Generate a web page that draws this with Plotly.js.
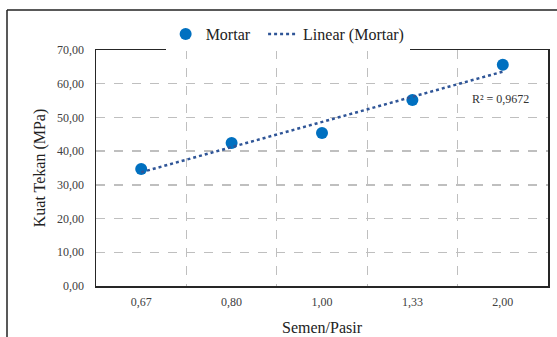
<!DOCTYPE html>
<html>
<head>
<meta charset="utf-8">
<script src="https://cdn.plot.ly/plotly-3.0.1.min.js"></script>
<style>
html,body{margin:0;padding:0;background:#fff;}
#chart{width:557px;height:337px;}
</style>
</head>
<body>
<div id="chart"></div>
<script>
// Data
const categories = ["0,67", "0,80", "1,00", "1,33", "2,00"];
const mortarValues = [34.7, 42.4, 45.4, 55.2, 65.6];
const yTickVals = [0, 10, 20, 30, 40, 50, 60, 70];
const r2Label = "R² = 0,9672";

// Linear trendline over category index (like a spreadsheet trendline)
const idx = categories.map((_, i) => i + 1);
const n = idx.length;
const mx = idx.reduce((a, b) => a + b, 0) / n;
const my = mortarValues.reduce((a, b) => a + b, 0) / n;
let sxy = 0, sxx = 0;
for (let i = 0; i < n; i++) { sxy += (idx[i] - mx) * (mortarValues[i] - my); sxx += (idx[i] - mx) ** 2; }
const slope = sxy / sxx;
const intercept = my - slope * mx;
const trendValues = idx.map(x => intercept + slope * x);

const serif = "Liberation Serif";

const traces = [
  {
    x: categories, y: mortarValues, type: "scatter", mode: "markers", name: "Mortar\u00a0\u00a0",
    marker: {color: "#0070C0", size: 12}
  },
  {
    x: categories, y: trendValues, type: "scatter", mode: "lines", name: "Linear (Mortar)",
    line: {color: "#2F5597", width: 2.5, dash: "dot"}
  }
];

const layout = {
  width: 557, height: 337,
  margin: {l: 96, r: 9, t: 50, b: 51},
  paper_bgcolor: "#fff", plot_bgcolor: "#fff",
  separators: ",.",
  font: {family: serif, color: "#404040", size: 12},
  showlegend: true,
  legend: {orientation: "h", x: 0.424, xanchor: "center", y: 0.995, yanchor: "bottom",
           font: {family: serif, size: 16, color: "#222"}, traceorder: "normal", itemwidth: 30},
  xaxis: {
    type: "category", tickson: "boundaries", ticks: "", range: [-0.5, 4.5],
    showgrid: true, gridcolor: "#BFBFBF", griddash: "dash", gridwidth: 1.3,
    showline: true, mirror: true, linecolor: "#262626", linewidth: 1.5,
    zeroline: false, ticklabelstandoff: 4,
    tickfont: {family: serif, size: 12, color: "#404040"},
    title: {text: "Semen/Pasir", font: {family: serif, size: 16, color: "#222"}, standoff: 14},
    automargin: false
  },
  yaxis: {
    range: [0, 70], tickvals: yTickVals, tickformat: ".2f", ticks: "",
    showgrid: true, gridcolor: "#BFBFBF", griddash: "dash", gridwidth: 1.3,
    showline: true, mirror: true, linecolor: "#262626", linewidth: 1.5,
    zeroline: false, ticklabelstandoff: 8,
    tickfont: {family: serif, size: 12, color: "#404040"},
    title: {text: "Kuat Tekan (MPa)", font: {family: serif, size: 16, color: "#222"}, standoff: 7},
    automargin: false
  },
  annotations: [
    {x: 3.97, y: 55.5, xref: "x", yref: "y", text: r2Label, showarrow: false,
     font: {family: serif, size: 12, color: "#333"}}
  ],
  shapes: [
    {type: "line", xref: "paper", yref: "paper", x0: -89/452, x1: 9/452 + 1.01, y0: 1 + 40/236, y1: 1 + 40/236,
     line: {color: "#222", width: 1.5}},
    {type: "line", xref: "paper", yref: "paper", x0: -89/452, x1: -89/452, y0: 1 + 40/236, y1: -51/236 - 0.01,
     line: {color: "#222", width: 1.5}}
  ]
};

Plotly.newPlot("chart", traces, layout, {displayModeBar: false, staticPlot: true});
</script>
</body>
</html>
